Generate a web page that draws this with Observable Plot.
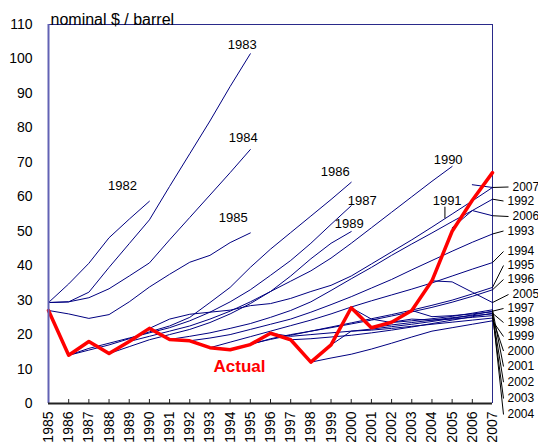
<!DOCTYPE html>
<html><head><meta charset="utf-8">
<style>html,body{margin:0;padding:0;background:#fff;overflow:hidden}</style>
<script src="https://cdn.jsdelivr.net/npm/d3@7"></script>
<script src="https://cdn.jsdelivr.net/npm/@observablehq/plot@0.6"></script>
</head><body><div id="chart"></div>
<script>
// ---- data ----
const years = d3.range(1985, 2008);
const actual = [27, 14, 18, 14.5, 18, 21.8, 18.6, 18.2, 16.2, 15.6, 17.1, 20.4, 18.5, 12, 17, 27.8, 22, 23.6, 27, 35.6, 50, 59, 67];

const forecastNames = ["1982","1983","1984","1985","1986","1987","1989","1990","1991","1992","1993","1994","1995","1996","1997","1998","1999","2000","2001","2002","2003","2004","2005","2006","2007"];
const forecastStarts = [1985,1985,1985,1985,1986,1986,1988,1989,1990,1991,1992,1993,1994,1995,1996,1997,1998,1999,2000,2001,2002,2003,2004,2005,2006];
const forecastValues = [
  [29.3, 34.7, 40.7, 48.1, 53.5, 58.7],
  [29.3, 29.5, 32.3, 39.5, 46.4, 53.3, 63, 72.5, 82, 92, 101.5],
  [29.3, 29.5, 30.7, 33.3, 37, 40.8, 47.5, 54, 60.5, 67, 73.7],
  [27, 26, 24.7, 25.8, 29.5, 33.8, 37.5, 41, 43, 46.7, 49.5],
  [14, 15.5, 17, 18.8, 20.8, 22.5, 25, 29.3, 33.7, 39.5, 44.8, 49.6, 54.4, 59.2, 64.2],
  [14, 16, 17.5, 19, 20.5, 22, 24, 26.5, 29.5, 33, 37.2, 41.5, 46.5, 52, 57.4],
  [14.5, 16.5, 18.5, 20, 21.5, 23.5, 26, 29, 32.5, 37, 42, 46.5, 49.9],
  [18, 19.5, 21, 22.5, 24.5, 26.8, 29.5, 32.5, 35.5, 38.5, 42.2, 46.5, 51, 55.5, 60, 64.5, 68.8],
  [21.8, 24.5, 25.9, 26.5, 27.1, 28.4, 29, 30.5, 32.5, 34.3, 37, 40.5, 44, 47.5, 51.2, 55, 58.8, 62.7],
  [18.6, 19.5, 20.5, 21.8, 23.2, 25, 27, 29.5, 32.8, 36.2, 39.5, 43, 46.3, 49.5, 52.8, 56, 59.3],
  [18.2, 19, 20, 21.5, 23, 24.5, 26.5, 28.7, 31, 33.5, 36, 38.8, 41.5, 44.2, 46.8, 49.2],
  [16.2, 17.8, 19.4, 21, 22.6, 24.2, 26, 28, 29.8, 31.5, 33.2, 35, 37, 39, 40.9],
  [15.6, 17.3, 18.6, 19.8, 21, 22.2, 23.4, 24.6, 25.8, 27.1, 28.5, 30, 31.8, 33.7],
  [17.1, 18.8, 20, 21, 22, 23.1, 24.2, 25.4, 26.6, 27.9, 29.4, 31.1, 33.0],
  [20.4, 19.5, 20, 20.5, 21, 21.6, 22.3, 23, 23.8, 24.7, 25.7, 26.8],
  [18.5, 18.8, 19.3, 19.8, 20.5, 21.3, 22.2, 23.2, 24.2, 25.2, 26.2],
  [12, 13.2, 14.3, 15.8, 17.5, 19.3, 21, 22, 23, 24],
  [17, 21, 21.3, 21.8, 22.4, 23, 23.6, 24.2, 24.8],
  [27.8, 24.5, 23.5, 24, 24.6, 25.3, 26.2, 27.2],
  [22, 22.8, 23.5, 24.2, 24.9, 25.5, 26],
  [23.6, 24.5, 24.2, 24.5, 25, 25.5],
  [27, 25.2, 25.5, 26, 26.6],
  [35.6, 35.3, 32.3, 29.3],
  [51, 56, 54.5],
  [63.5, 62.7]
];
const yTicks = d3.range(0, 111, 10);

// ---- layout (pixel offsets for labels) ----
const W = 538, H = 445, mL = 48, mR = 46, mT = 24, mB = 42;
const kx = (W - mL - mR) / 22, ky = (H - mT - mB) / 110;
const topLabelOffsets = {"1982":[-27,-15],"1983":[-8,-9],"1984":[-7,-12],"1985":[-17,-15],"1986":[-16,-10],"1987":[11,-5],"1989":[-2,-8],"1990":[-4,-7]};
const rightLabelPos = {"2007":[20,186.5],"1992":[15,200.5],"2006":[20,216],"1993":[15,230.5],"1994":[15,251],"1995":[15,265],"1996":[15,279],"2005":[20,294],"1997":[15,308],"1998":[15,322],"1999":[15,336],"2000":[15,350.5],"2001":[15,366],"2002":[15,381.7],"2003":[15,398],"2004":[15,414]};

// ---- derived tables ----
const rows = forecastNames.flatMap((name, i) => forecastValues[i].map((v, j) => ({name, year: forecastStarts[i] + j, value: v})));
const actualRows = years.map((y, i) => ({year: y, value: actual[i]}));
const ends = forecastNames.map((name, i) => ({name, year: forecastStarts[i] + forecastValues[i].length - 1, value: forecastValues[i][forecastValues[i].length - 1]}));

const topLabels = ends.filter(d => topLabelOffsets[d.name]).map(d => {
  const [dx, dy] = topLabelOffsets[d.name];
  return {name: d.name, x: d.year + dx / kx, y: d.value - dy / ky};
});
const i1991 = forecastNames.indexOf("1991");
const a1991 = {year: 2005, value: forecastValues[i1991][2005 - forecastStarts[i1991]]};
topLabels.push({name: "1991", x: a1991.year - 5 / kx, y: a1991.value + 13.5 / ky});
const leader1991 = [{x: a1991.year - 7.2 / kx, y1: a1991.value - 4.8 / ky, y2: a1991.value + 6.8 / ky}];

const yFromPx = py => (H - mB - py) / ky;
const rightLabels = ends.filter(d => rightLabelPos[d.name]).map(d => {
  const [dx, py] = rightLabelPos[d.name];
  return {name: d.name, x: 2007 + dx / kx, y: yFromPx(py), x0: d.year, y0: d.value, xl: 2007 + (dx - 4) / kx};
});

const actualAnchor = actualRows.find(d => d.year === 1994);

const plot = Plot.plot({
  width: W, height: H,
  marginLeft: mL, marginRight: mR, marginTop: mT, marginBottom: mB,
  x: {domain: [1985, 2007]},
  y: {domain: [0, 110]},
  style: {fontFamily: "'Liberation Sans', Arial, sans-serif", fontSize: "13px", color: "#000", background: "#fff"},
  marks: [
    Plot.axisY(yTicks, {tickSize: 0, tickPadding: 16, fontSize: 14, label: null}),
    Plot.axisX(years, {tickSize: 0, tickPadding: 8, tickRotate: -90, tickFormat: d => String(d), fontSize: 14, label: null}),
    Plot.tickX(years, {x: d => d, insetTop: H - mT - mB - 4, stroke: "#222"}),
    Plot.ruleY([110], {stroke: "#2a2a8a"}),
    Plot.ruleX([2007], {stroke: "#2a2a8a"}),
    Plot.line(rows, {x: "year", y: "value", z: "name", stroke: "#000080", strokeWidth: 1}),
    Plot.line(actualRows, {x: "year", y: "value", stroke: "#ff0000", strokeWidth: 3.5}),
    Plot.ruleX([1985], {stroke: "#6262b4", strokeWidth: 2}),
    Plot.ruleY([0], {stroke: "#222", strokeWidth: 2}),
    Plot.text(topLabels, {x: "x", y: "y", text: "name", fontSize: 13, fill: "#000"}),
    Plot.ruleX(leader1991, {x: "x", y1: "y1", y2: "y2", stroke: "#000"}),
    Plot.link(rightLabels, {x1: "x0", y1: "y0", x2: "xl", y2: "y", stroke: "#000", strokeWidth: 1, clip: false}),
    Plot.text(rightLabels, {x: "x", y: "y", text: "name", textAnchor: "start", fontSize: 12, fill: "#000", clip: false}),
    Plot.text([actualAnchor], {x: d => d.year + 9.4 / kx, y: d => d.value - 16.7 / ky, text: () => "Actual", fill: "#ff0000", fontSize: 17, fontWeight: "bold"}),
    Plot.text(["nominal $ / barrel"], {frameAnchor: "top-left", dx: 2, dy: -11, textAnchor: "start", fontSize: 16, fill: "#000"})
  ]
});
document.getElementById("chart").appendChild(plot);
</script>
</body></html>
